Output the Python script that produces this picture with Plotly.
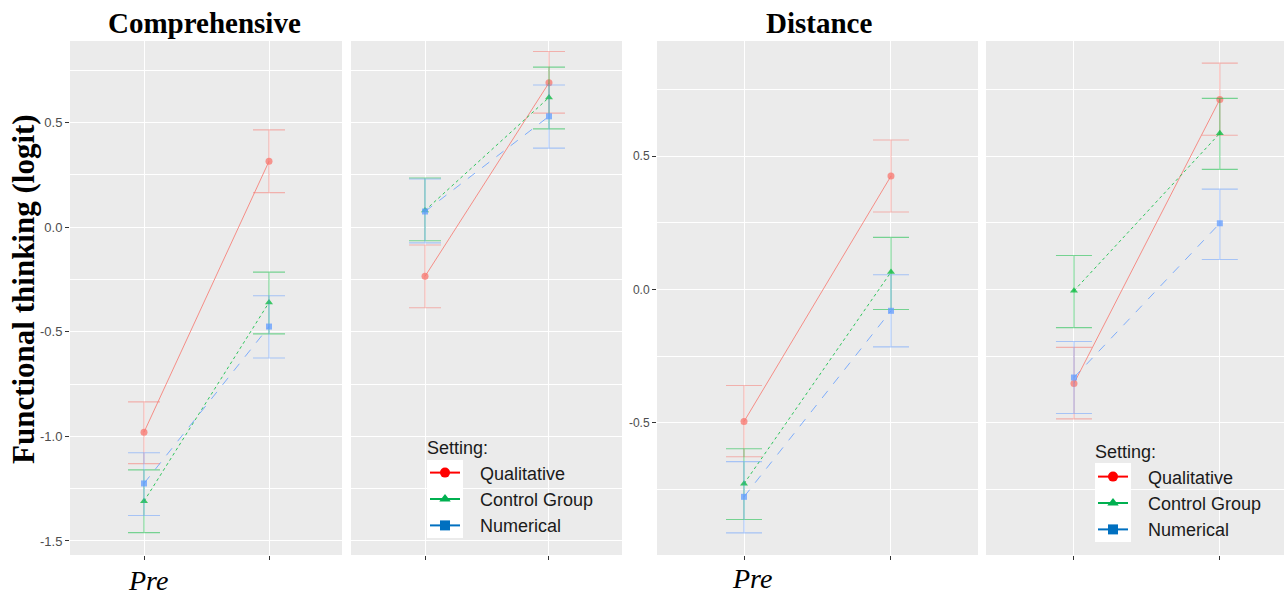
import plotly.graph_objects as go

# ---------------- data ----------------
groups = ["Qualitative", "Control Group", "Numerical"]
time_labels = ["Pre", "Post"]
time_pos = [1, 2]

# Comprehensive - left panel
comp1_mean = {"Qualitative": [-0.98, 0.315], "Control Group": [-1.31, -0.36], "Numerical": [-1.225, -0.475]}
comp1_lo = {"Qualitative": [-1.13, 0.165], "Control Group": [-1.46, -0.51], "Numerical": [-1.378, -0.625]}
comp1_hi = {"Qualitative": [-0.835, 0.465], "Control Group": [-1.16, -0.215], "Numerical": [-1.078, -0.328]}

# Comprehensive - right panel
comp2_mean = {"Qualitative": [-0.235, 0.69], "Control Group": [0.08, 0.62], "Numerical": [0.075, 0.53]}
comp2_lo = {"Qualitative": [-0.385, 0.545], "Control Group": [-0.065, 0.47], "Numerical": [-0.075, 0.378]}
comp2_hi = {"Qualitative": [-0.085, 0.84], "Control Group": [0.235, 0.765], "Numerical": [0.23, 0.68]}

# Distance - left panel
dist1_mean = {"Qualitative": [-0.495, 0.425], "Control Group": [-0.728, 0.065], "Numerical": [-0.777, -0.08]}
dist1_lo = {"Qualitative": [-0.627, 0.29], "Control Group": [-0.862, -0.075], "Numerical": [-0.912, -0.215]}
dist1_hi = {"Qualitative": [-0.36, 0.56], "Control Group": [-0.597, 0.195], "Numerical": [-0.645, 0.055]}

# Distance - right panel
dist2_mean = {"Qualitative": [-0.352, 0.712], "Control Group": [-0.005, 0.585], "Numerical": [-0.33, 0.248]}
dist2_lo = {"Qualitative": [-0.485, 0.578], "Control Group": [-0.143, 0.45], "Numerical": [-0.465, 0.112]}
dist2_hi = {"Qualitative": [-0.217, 0.848], "Control Group": [0.127, 0.716], "Numerical": [-0.195, 0.376]}

y_ticks_comp = [-1.5, -1.0, -0.5, 0.0, 0.5]
y_ticks_dist = [-0.5, 0.0, 0.5]

# ---------------- styles ----------------
rgb = {"Qualitative": (248, 118, 109), "Control Group": (0, 186, 56), "Numerical": (97, 156, 255)}
legend_col = {"Qualitative": "#FF0000", "Control Group": "#00B050", "Numerical": "#0070C0"}
dash = {"Qualitative": "solid", "Control Group": "dot", "Numerical": "dash"}
symbol = {"Qualitative": "circle", "Control Group": "triangle-up", "Numerical": "square"}
msize = {"Qualitative": 7, "Control Group": 7, "Numerical": 6}


def rgba(g, a):
    r, gg, b = rgb[g]
    return f"rgba({r},{gg},{b},{a})"


W, H = 1284, 595


def px_x(v):
    return v / W


def px_y(v):
    return 1 - v / H


fig = go.Figure()

panels = [
    (comp1_mean, comp1_lo, comp1_hi, "x", "y", 16),
    (comp2_mean, comp2_lo, comp2_hi, "x2", "y2", 16),
    (dist1_mean, dist1_lo, dist1_hi, "x3", "y3", 18),
    (dist2_mean, dist2_lo, dist2_hi, "x4", "y4", 18),
]

for mean, lo, hi, xa, ya, cap in panels:
    for g in groups:
        m = mean[g]
        fig.add_trace(go.Scatter(
            x=time_pos, y=m, xaxis=xa, yaxis=ya,
            mode="lines+markers", showlegend=False,
            line=dict(color=rgba(g, 0.8), width=1, dash=dash[g]),
            marker=dict(symbol=symbol[g], size=msize[g], color=rgba(g, 0.75)),
            error_y=dict(type="data", symmetric=False,
                         array=[h - v for h, v in zip(hi[g], m)],
                         arrayminus=[v - l for v, l in zip(m, lo[g])],
                         color=rgba(g, 0.5), thickness=1.1, width=cap),
        ))

# legend entries (one legend per block)
for leg in ["legend", "legend2"]:
    for g in groups:
        fig.add_trace(go.Scatter(
            x=[None], y=[None], xaxis="x", yaxis="y", name="\u00a0\u00a0\u00a0" + g,
            mode="lines+markers", legend=leg, showlegend=True,
            line=dict(color=legend_col[g], width=2),
            marker=dict(symbol=symbol[g], size=10, color=legend_col[g]),
        ))

grid = "white"
panel_bg = "#EBEBEB"
y_dom = [px_y(555), px_y(41)]
x_doms = [(70, 342), (351, 622), (657, 978), (986, 1284)]
x_ranges = [[0.408, 2.584], [0.403, 2.589], [0.408, 2.592], [0.397, 2.44]]
y_range_comp = [-1.567, 0.89]
y_range_dist = [-0.995, 0.931]

layout = dict(
    width=W, height=H, margin=dict(l=0, r=0, t=0, b=0),
    paper_bgcolor="white", plot_bgcolor=panel_bg,
    font=dict(family="Liberation Sans, Arial, sans-serif", color="#4D4D4D"),
)

for i, (dom, rng) in enumerate(zip(x_doms, x_ranges)):
    k = "" if i == 0 else str(i + 1)
    layout["xaxis" + k] = dict(
        domain=[px_x(dom[0]), px_x(min(dom[1], W))], range=rng, anchor="y" + k,
        tickmode="array", tickvals=time_pos, ticktext=["", ""],
        ticks="outside", ticklen=4, tickcolor="#333333", tickwidth=1,
        showgrid=True, gridcolor=grid, gridwidth=1.2, zeroline=False, showline=False,
        fixedrange=True,
    )
    is_comp = i < 2
    yr = y_range_comp if is_comp else y_range_dist
    yt = y_ticks_comp if is_comp else y_ticks_dist
    show_labels = i in (0, 2)
    layout["yaxis" + k] = dict(
        domain=y_dom, range=yr, anchor="x" + k,
        tickmode="array", tickvals=yt, ticktext=[f"{v:.1f}" for v in yt],
        showticklabels=show_labels,
        ticks="outside" if show_labels else "", ticklen=4, tickcolor="#333333", tickwidth=1,
        tickfont=dict(size=13 if is_comp else 12, color="#4D4D4D"),
        showgrid=True, gridcolor=grid, gridwidth=1.2, zeroline=False, showline=False,
        minor=dict(tickmode="linear", tick0=0.25, dtick=0.5, showgrid=True, gridcolor=grid, gridwidth=0.8),
        fixedrange=True,
    )

legend_common = dict(
    bgcolor="rgba(0,0,0,0)", borderwidth=0,
    font=dict(family="Liberation Sans, Arial, sans-serif", size=18, color="#1A1A1A"),
    title=dict(text="Setting:", side="top", font=dict(family="Liberation Sans, Arial, sans-serif", size=18, color="#1A1A1A")),
    xanchor="left", yanchor="top", itemclick=False, itemdoubleclick=False, traceorder="normal",
)
layout["legend"] = dict(legend_common, x=px_x(425), y=px_y(431))
layout["legend2"] = dict(legend_common, x=px_x(1093), y=px_y(435))

fig.update_layout(**layout)

# white key boxes behind legend symbols
for (x0, x1, y0, y1) in [(427, 463, 460, 538), (1095, 1131, 463, 542)]:
    fig.add_shape(type="rect", xref="paper", yref="paper",
                  x0=px_x(x0), x1=px_x(x1), y0=px_y(y1), y1=px_y(y0),
                  fillcolor="white", line=dict(width=0), layer="above")

serif = "Liberation Serif, Times New Roman, serif"
ann = [
    dict(text="<b>Comprehensive</b>", x=px_x(204), y=px_y(23), font=dict(family=serif, size=29, color="black")),
    dict(text="<b>Distance</b>", x=px_x(819), y=px_y(23), font=dict(family=serif, size=29, color="black")),
    dict(text="<b>Functional thinking (logit)</b>", x=px_x(23), y=px_y(289), textangle=-90,
         font=dict(family=serif, size=31, color="black")),
    dict(text="<i>" + time_labels[0] + "</i>", x=px_x(148), y=px_y(580), font=dict(family=serif, size=28, color="black")),
    dict(text="<i>" + time_labels[0] + "</i>", x=px_x(752), y=px_y(578), font=dict(family=serif, size=28, color="black")),
]
for a in ann:
    fig.add_annotation(xref="paper", yref="paper", showarrow=False, xanchor="center", yanchor="middle", **a)

fig.write_html("out.html", config={"displayModeBar": False},
               post_script="document.body.style.margin='0';document.body.style.overflow='hidden';")
